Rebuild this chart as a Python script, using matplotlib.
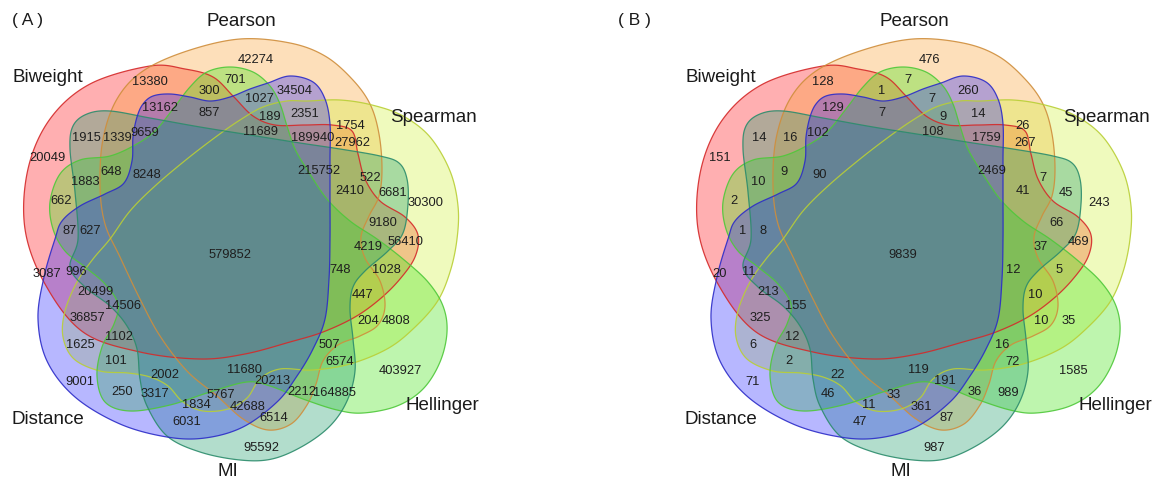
import numpy as np
import matplotlib
matplotlib.use("Agg")
import matplotlib.pyplot as plt
from matplotlib.patches import Polygon

plt.rcParams['font.family'] = ['Liberation Sans', 'DejaVu Sans']

# ---------------------------------------------------------------- data
set_names = ["Biweight", "Pearson", "Spearman", "Hellinger", "MI", "Distance"]
panel_titles = ["( A )", "( B )"]

# region counts, panel A and panel B (None = empty region, no label)
counts_a = [42274, 13380, 701, 300, 34504, 1027, 13162, 857, 189, 2351,
            11689, 1915, 1339, 9659, 189940, 27962, 1754, 20049, 1883, 648,
            8248, 215752, 522, 2410, 6681, 30300, 662, 9180, 87, 627,
            56410, 579852, 4219, 3087, 996, 748, 1028, 20499, 14506, 447,
            36857, 204, 4808, 1102, 1625, 507, 101, 6574, 403927, 9001,
            2002, 11680, 20213, 250, 3317, 1834, 5767, 42688, 2212, 164885,
            6031, 6514, 95592]
counts_b = [476, 128, 7, 1, 260, 7, 129, 7, 9, 14,
            108, 14, 16, 102, 1759, 267, 26, 151, 10, 9,
            90, 2469, 7, 41, 45, 243, 2, 66, 1, 8,
            469, 9839, 37, 20, 11, 12, 5, 213, 155, 10,
            325, 10, 35, 12, 6, 16, 2, 72, 1585, 71,
            22, 119, 191, None, 46, 11, 33, 361, 36, 989,
            47, 87, 987]

# ---------------------------------------------------------------- layout
# label centres of the 63 regions (pixel coordinates inside one panel)
region_xy = [(256, 60), (150, 82), (235, 80), (209, 91), (295, 91), (259, 99),
             (160, 108), (209, 113), (270, 117), (305, 114), (260, 132),
             (86, 138), (117, 138), (145, 133), (313, 138), (352, 143),
             (350, 126), (47, 158), (85, 182), (111, 172), (147, 175),
             (319, 171), (370, 178), (350, 191), (393, 193), (426, 203),
             (61, 201), (383, 223), (70, 231), (90, 231), (406, 242),
             (230, 255), (368, 247), (47, 274), (76, 272), (340, 270),
             (386, 270), (95, 292), (123, 306), (362, 295), (87, 318),
             (368, 321), (396, 321), (119, 337), (80, 345), (329, 345),
             (116, 361), (340, 362), (400, 371), (80, 382), (165, 375),
             (245, 370), (272, 381), (122, 392), (155, 394), (196, 405),
             (221, 395), (248, 407), (302, 392), (335, 393), (187, 422),
             (274, 418), (261, 448)]

set_label_xy = [(48, 77), (241, 22), (433, 118), (442, 406), (228, 472), (48, 420)]
panel_shift = [0, 673]
title_xy = [(28, 21), (634, 21)]

# outline control points of each set (pixel coordinates)
outlines = {
    "Biweight": [(150, 67), (185, 70), (213, 78), (233, 97), (253, 117), (275, 126),
                 (305, 126), (332, 126), (352, 132), (358, 155), (365, 180),
                 (380, 202), (405, 218), (418, 236), (415, 258), (400, 280),
                 (380, 300), (355, 318), (323, 333), (290, 343), (245, 355),
                 (200, 360), (140, 353), (83, 333), (45, 285), (25, 230),
                 (28, 170), (50, 120), (90, 85)],
    "Pearson": [(100, 187), (103, 140), (117, 100), (143, 72), (187, 52), (240, 40),
                (290, 44), (325, 57), (352, 80), (370, 105), (379, 135),
                (382, 170), (379, 197), (369, 217), (361, 238), (365, 259),
                (380, 282), (385, 307), (378, 326), (360, 337), (338, 346),
                (323, 362), (316, 385), (307, 406), (291, 425), (268, 431),
                (243, 420), (217, 397), (187, 372), (160, 337), (140, 300),
                (120, 258), (105, 225)],
    "Spearman": [(307, 102), (340, 101), (372, 106), (403, 117), (430, 138),
                 (450, 172), (458, 207), (457, 240), (450, 273), (437, 303),
                 (413, 330), (387, 350), (350, 365), (313, 371), (280, 370),
                 (260, 380), (247, 399), (228, 410), (203, 412), (183, 403),
                 (168, 387), (150, 378), (128, 374), (100, 372), (74, 360),
                 (63, 338), (65, 312), (77, 283), (93, 260), (110, 240),
                 (130, 212), (155, 187), (187, 160), (217, 137), (240, 121),
                 (263, 108), (287, 102)],
    "Hellinger": [(230, 68), (253, 73), (270, 87), (280, 105), (287, 127),
                  (295, 150), (308, 172), (327, 200), (350, 222), (377, 240),
                  (403, 260), (428, 283), (443, 307), (447, 333), (440, 363),
                  (423, 390), (397, 407), (363, 414), (337, 411), (303, 400),
                  (270, 387), (247, 383), (210, 393), (170, 406), (130, 412),
                  (105, 403), (97, 377), (102, 348), (114, 325), (118, 305),
                  (105, 285), (85, 268), (65, 252), (53, 230), (50, 203),
                  (60, 175), (80, 161), (110, 157), (135, 146), (155, 132),
                  (173, 110), (190, 88), (207, 73)],
    "MI": [(110, 112), (150, 119), (200, 128), (250, 136), (300, 144), (340, 150),
           (380, 157), (399, 164), (407, 180), (408, 205), (403, 234), (388, 252),
           (365, 272), (353, 288), (350, 310), (353, 340), (355, 372), (347, 402),
           (330, 427), (303, 447), (272, 460), (240, 461), (200, 453), (167, 437),
           (147, 407), (140, 380), (137, 350), (127, 327), (110, 307), (85, 288),
           (70, 268), (78, 240), (75, 193), (70, 150), (73, 127), (87, 115)],
    "Distance": [(143, 105), (153, 97), (170, 95), (190, 98), (210, 102), (230, 98),
                 (250, 90), (268, 84), (290, 77), (313, 83), (325, 100),
                 (330, 125), (330, 160), (330, 200), (330, 240), (329, 280),
                 (325, 320), (313, 350), (297, 377), (277, 403), (243, 428),
                 (205, 439), (167, 438), (120, 425), (75, 398), (47, 362),
                 (38, 320), (44, 278), (55, 240), (62, 222), (80, 207),
                 (105, 195), (124, 184), (132, 162), (133, 138), (137, 118)],
}

fills = {"Biweight": (1.0, 0.05, 0.08), "Pearson": (0.98, 0.62, 0.18),
         "Spearman": (0.82, 0.95, 0.22), "Hellinger": (0.30, 0.90, 0.12),
         "MI": (0.12, 0.62, 0.42), "Distance": (0.12, 0.12, 1.0)}
edges = {"Biweight": "#d42a2a", "Pearson": "#cf8e3c", "Spearman": "#b9cf36",
         "Hellinger": "#4fc83a", "MI": "#2c8c6c", "Distance": "#2c2cc8"}
alphas = {"Biweight": 0.33, "Pearson": 0.33, "Spearman": 0.33,
          "Hellinger": 0.36, "MI": 0.34, "Distance": 0.32}


def closed_spline(points, n=24):
    """Closed Catmull-Rom curve through the given control points."""
    p = np.asarray(points, float)
    m = len(p)
    t = np.linspace(0, 1, n, endpoint=False)[:, None]
    segs = []
    for i in range(m):
        p0, p1, p2, p3 = p[(i - 1) % m], p[i], p[(i + 1) % m], p[(i + 2) % m]
        segs.append(0.5 * (2 * p1 + (p2 - p0) * t
                           + (2 * p0 - 5 * p1 + 4 * p2 - p3) * t ** 2
                           + (3 * p1 - p0 - 3 * p2 + p3) * t ** 3))
    return np.vstack(segs)


W, H = 1153, 481
fig = plt.figure(figsize=(W / 100, H / 100), dpi=100)
ax = fig.add_axes([0, 0, 1, 1])
ax.set_xlim(0, W)
ax.set_ylim(H, 0)
ax.axis("off")

for title, txy, counts, dx in zip(panel_titles, title_xy, [counts_a, counts_b],
                                  panel_shift):
    curves = {k: closed_spline(v) + [dx, 0] for k, v in outlines.items()}
    for name in set_names:
        ax.add_patch(Polygon(curves[name], closed=True, facecolor=fills[name],
                             alpha=alphas[name], edgecolor="none", zorder=1))
    for name in set_names:
        ax.add_patch(Polygon(curves[name], closed=True, facecolor="none",
                             edgecolor=edges[name], lw=0.9, alpha=0.9, zorder=2))
    for val, (x, y) in zip(counts, region_xy):
        if val is None:
            continue
        ax.text(x + dx, y, str(val), ha="center", va="center", fontsize=9.3,
                color="#1e1e1e", zorder=3)
    for name, (x, y) in zip(set_names, set_label_xy):
        ax.text(x + dx, y, name, ha="center", va="center", fontsize=13.5,
                color="#1a1a1a", zorder=3)
    ax.text(txy[0], txy[1], title, ha="center", va="center", fontsize=12.5,
            color="#1a1a1a", zorder=3)

fig.savefig("out.png", dpi=100)
